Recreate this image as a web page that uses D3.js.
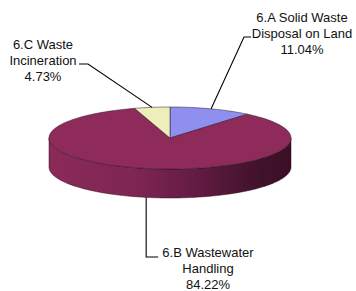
<!DOCTYPE html>
<html>
<head>
<meta charset="utf-8">
<script src="https://cdn.jsdelivr.net/npm/d3@7"></script>
<style>
  html, body { margin: 0; padding: 0; background: #fff; }
  svg { display: block; }
  text { font-family: "Liberation Sans", Arial, sans-serif; font-size: 13px; fill: #111; }
</style>
</head>
<body>
<svg id="chart" width="356" height="291"></svg>
<script>
// ---- data ----
const categories = ["6.A Solid Waste Disposal on Land", "6.B Wastewater Handling", "6.C Waste Incineration"];
const labelLines = [["6.A Solid Waste", "Disposal on Land"], ["6.B Wastewater", "Handling"], ["6.C Waste", "Incineration"]];
const values = [11.04, 84.22, 4.73];
const percentLabels = ["11.04%", "84.22%", "4.73%"];
const colors = ["#8f8ff0", "#8e2b5b", "#eeeebd"];

// ---- layout ----
const svg = d3.select("#chart");
const cx = 170, cy = 138, rx = 121, ry = 31, depth = 29;

const pie = d3.pie().sort(null).value(d => d);
const arcs = pie(values);

const px = a => cx + rx * Math.sin(a);
const py = a => cy - ry * Math.cos(a);

function ellipseArcPoints(a0, a1, dy) {
  const n = Math.max(2, Math.ceil(Math.abs(a1 - a0) / 0.02));
  const pts = [];
  for (let i = 0; i <= n; i++) {
    const a = a0 + (a1 - a0) * i / n;
    pts.push([px(a), py(a) + dy]);
  }
  return pts;
}

// gradient for side wall
const defs = svg.append("defs");
const grad = defs.append("linearGradient")
  .attr("id", "sideGrad")
  .attr("gradientUnits", "userSpaceOnUse")
  .attr("x1", cx - rx).attr("x2", cx + rx).attr("y1", 0).attr("y2", 0);
[[0, "#8a2a59"], [0.35, "#7f2652"], [0.6, "#631c42"], [0.85, "#43122c"], [1, "#3a0f26"]]
  .forEach(([o, c]) => grad.append("stop").attr("offset", o).attr("stop-color", c));

// side walls (front half only)
const line = d3.line();
arcs.forEach((d, i) => {
  const s = Math.max(d.startAngle, Math.PI / 2);
  const e = Math.min(d.endAngle, 3 * Math.PI / 2);
  if (s >= e) return;
  const top = ellipseArcPoints(s, e, 0);
  const bot = ellipseArcPoints(e, s, depth);
  svg.append("path")
    .attr("d", line(top.concat(bot)) + "Z")
    .attr("fill", i === 1 ? "url(#sideGrad)" : colors[i])
    .attr("stroke", "#2a0a1a")
    .attr("stroke-width", 0.6)
    .attr("stroke-opacity", 0.8);
});

// top faces
arcs.forEach((d, i) => {
  const pts = [[cx, cy]].concat(ellipseArcPoints(d.startAngle, d.endAngle, 0));
  svg.append("path")
    .attr("d", line(pts) + "Z")
    .attr("fill", colors[i])
    .attr("stroke", "#2a1a22")
    .attr("stroke-width", 0.6)
    .attr("stroke-opacity", 0.85)
    .attr("stroke-linejoin", "round");
});

// labels & leader lines
const labelPos = [
  { x: 302, y: 22, elbow: [[244, 37], [251, 37]] },
  { x: 208, y: 257, elbow: null },
  { x: 43, y: 49, elbow: [[88, 64], [79, 64]] }
];
const lineH = 15.8;

arcs.forEach((d, i) => {
  const mid = (d.startAngle + d.endAngle) / 2;
  const front = Math.cos(mid) < 0;
  const ax = px(mid), ay = py(mid) + (front ? depth : 0);
  let pts;
  if (i === 1) {
    pts = [[ax, ay], [ax, 257], [ax + 12, 257]];
  } else {
    pts = [[ax, ay]].concat(labelPos[i].elbow);
  }
  svg.append("path")
    .attr("d", line(pts))
    .attr("fill", "none")
    .attr("stroke", "#000")
    .attr("stroke-width", 1.1);

  const t = svg.append("text")
    .attr("text-anchor", "middle");
  const lines = labelLines[i].concat([percentLabels[i]]);
  lines.forEach((l, k) => {
    t.append("tspan")
      .attr("x", labelPos[i].x)
      .attr("y", labelPos[i].y + k * lineH)
      .text(l);
  });
});
</script>
</body>
</html>
